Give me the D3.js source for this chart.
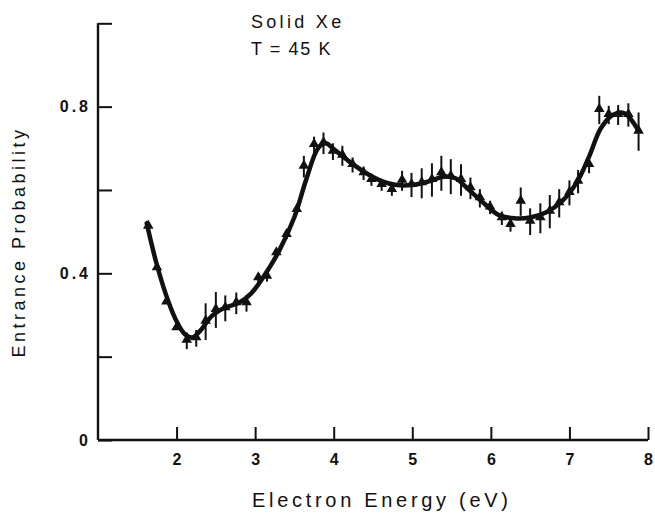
<!DOCTYPE html>
<html>
<head>
<meta charset="utf-8">
<script src="https://cdn.jsdelivr.net/npm/d3@7"></script>
<style>
  html, body { margin: 0; padding: 0; background: #fff; }
  svg { display: block; }
  text { font-family: "Liberation Sans", Arial, Helvetica, sans-serif; fill: #111; }
</style>
</head>
<body>
<svg id="chart" width="655" height="514"></svg>
<script>
// ---- data ----
const energy = [1.64,1.75,1.87,2.00,2.13,2.25,2.37,2.50,2.62,2.76,2.89,3.04,3.15,3.27,3.40,3.53,
  3.62,3.75,3.87,3.99,4.11,4.24,4.38,4.48,4.61,4.74,4.87,4.99,5.12,5.25,5.37,5.49,5.62,5.74,5.86,5.99,
  6.14,6.25,6.38,6.50,6.63,6.75,6.87,7.00,7.11,7.25,7.38,7.50,7.62,7.75,7.88];
const probability = [0.512,0.412,0.330,0.268,0.238,0.244,0.284,0.312,0.316,0.328,0.328,0.388,0.392,0.448,0.492,0.552,
  0.656,0.708,0.712,0.692,0.682,0.660,0.640,0.624,0.612,0.600,0.622,0.612,0.616,0.624,0.640,0.632,0.624,0.604,0.580,0.558,
  0.532,0.516,0.572,0.524,0.532,0.548,0.568,0.593,0.620,0.660,0.792,0.780,0.780,0.780,0.740];
const errorHalf = [0,0,0,0,0.020,0.020,0.044,0.043,0.031,0.026,0.020,0.012,0.012,0.010,0.010,0.010,
  0.026,0.020,0.026,0.020,0.024,0.018,0.016,0.014,0.014,0.014,0.024,0.029,0.036,0.040,0.042,0.042,0.038,0.026,0.022,0.016,
  0.016,0.016,0.034,0.032,0.036,0.040,0.034,0.030,0.028,0.020,0.034,0.022,0.024,0.028,0.046];
// smooth fitted curve
const curveEnergy = [1.62,1.75,1.90,2.00,2.10,2.20,2.30,2.45,2.60,2.80,2.95,3.10,3.30,3.50,3.65,3.80,3.90,4.00,4.20,4.40,4.60,4.80,5.00,5.20,5.40,5.55,5.70,5.90,6.10,6.30,6.50,6.70,6.90,7.10,7.25,7.40,7.55,7.70,7.87];
const curveProb   = [0.520,0.420,0.330,0.285,0.255,0.246,0.262,0.298,0.316,0.330,0.352,0.390,0.452,0.535,0.625,0.700,0.712,0.698,0.668,0.642,0.622,0.612,0.612,0.620,0.632,0.628,0.604,0.570,0.540,0.532,0.534,0.546,0.572,0.620,0.680,0.748,0.780,0.784,0.745];
const xTicks = [2,3,4,5,6,7,8];
const yTicks = [0,0.2,0.4,0.6,0.8,1.0];
const yLabels = {0:"0", 0.4:"0.4", 0.8:"0.8"};
const xTitle = "Electron Energy  (eV)";
const yTitle = "Entrance  Probability";
const notes = ["Solid Xe", "T = 45 K"];

// ---- drawing ----
const svg = d3.select("#chart");
const x = d3.scaleLinear().domain([1, 8]).range([98, 648]);
const y = d3.scaleLinear().domain([0, 1]).range([440, 23.3]);

const xAxis = d3.axisBottom(x).tickValues(xTicks).tickSizeInner(-13).tickSizeOuter(0).tickPadding(14)
  .tickFormat(d3.format("d"));
const gx = svg.append("g").attr("transform", `translate(0,${y(0)})`).call(xAxis);
gx.select(".domain").attr("stroke", "#111").attr("stroke-width", 2.4).attr("d", `M${x(1)},0H${x(8)}`);
gx.selectAll(".tick line").attr("stroke", "#111").attr("stroke-width", 2);
gx.selectAll(".tick text").attr("font-size", 16).attr("font-weight", "bold").attr("fill", "#111")
  .attr("font-family", "'Liberation Sans', Arial, sans-serif");

const yAxis = d3.axisLeft(y).tickValues(yTicks).tickSizeInner(-14).tickSizeOuter(0).tickPadding(7)
  .tickFormat(d => yLabels[d] !== undefined ? yLabels[d] : "");
const gy = svg.append("g").attr("transform", `translate(${x(1)},0)`).call(yAxis);
gy.select(".domain").attr("stroke", "#111").attr("stroke-width", 2.4).attr("d", `M0,${y(1)}V${y(0)}`);
gy.selectAll(".tick line").attr("stroke", "#111").attr("stroke-width", 2);
gy.selectAll(".tick text").attr("font-size", 16).attr("font-weight", "bold").attr("fill", "#111")
  .attr("letter-spacing", 3)
  .attr("font-family", "'Liberation Sans', Arial, sans-serif");

// fitted curve
const line = d3.line().x((d, i) => x(curveEnergy[i])).y(d => y(d)).curve(d3.curveCatmullRom.alpha(0.5));
svg.append("path").datum(curveProb).attr("d", line)
  .attr("fill", "none").attr("stroke", "#111").attr("stroke-width", 4.5)
  .attr("stroke-linecap", "round").attr("stroke-linejoin", "round");

// error bars
const pts = energy.map((e, i) => ({e, p: probability[i], err: errorHalf[i]}));
svg.append("g").selectAll("line").data(pts.filter(d => d.err > 0)).join("line")
  .attr("x1", d => x(d.e)).attr("x2", d => x(d.e))
  .attr("y1", d => y(d.p - d.err)).attr("y2", d => y(d.p + d.err))
  .attr("stroke", "#111").attr("stroke-width", 2);

// triangles
const tri = d3.symbol().type(d3.symbolTriangle).size(48);
svg.append("g").selectAll("path").data(pts).join("path")
  .attr("d", tri)
  .attr("transform", d => `translate(${x(d.e)},${y(d.p) - 1})`)
  .attr("fill", "#111");

// annotations
svg.append("text").attr("x", 251).attr("y", 28).attr("font-size", 18).attr("letter-spacing", 3.3).text(notes[0]);
svg.append("text").attr("x", 251).attr("y", 55).attr("font-size", 18).attr("letter-spacing", 1.6).text(notes[1]);

// axis titles
svg.append("text").attr("x", 252).attr("y", 507)
  .attr("font-size", 20).attr("letter-spacing", 3.7).text(xTitle);
svg.append("text").attr("transform", `translate(25,${242}) rotate(-90)`).attr("text-anchor", "middle")
  .attr("font-size", 18).attr("letter-spacing", 3.5).text(yTitle);
</script>
</body>
</html>
